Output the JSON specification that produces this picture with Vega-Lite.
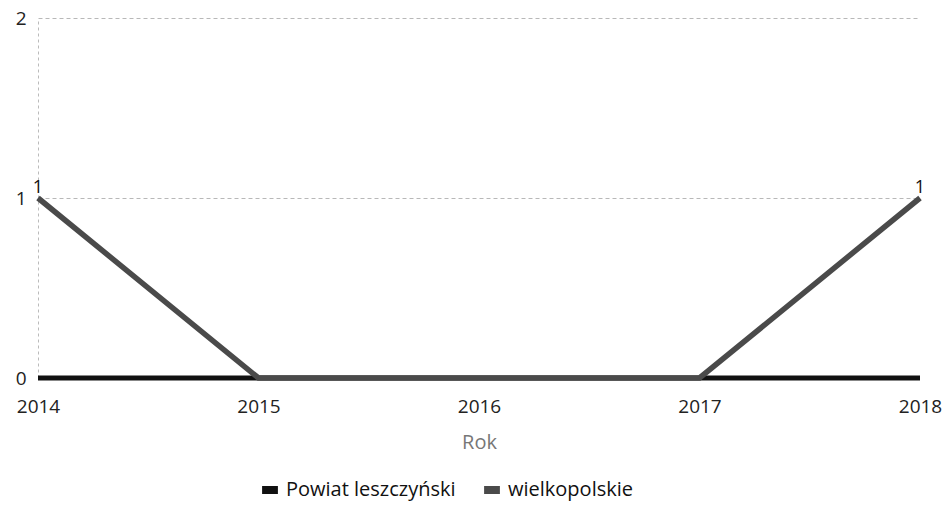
{
  "$schema": "https://vega.github.io/schema/vega-lite/v6.json",
  "autosize": {"type": "none"},
  "padding": {"left": 38, "top": 18, "right": 27, "bottom": 127},
  "width": 882,
  "height": 360,
  "background": "white",
  "config": {
    "font": "Open Sans",
    "view": {"stroke": null}
  },
  "data": {
    "values": [
      {"Rok": "2014", "seria": "Powiat leszczyński", "wartosc": 0},
      {"Rok": "2015", "seria": "Powiat leszczyński", "wartosc": 0},
      {"Rok": "2016", "seria": "Powiat leszczyński", "wartosc": 0},
      {"Rok": "2017", "seria": "Powiat leszczyński", "wartosc": 0},
      {"Rok": "2018", "seria": "Powiat leszczyński", "wartosc": 0},
      {"Rok": "2014", "seria": "wielkopolskie", "wartosc": 1},
      {"Rok": "2015", "seria": "wielkopolskie", "wartosc": 0},
      {"Rok": "2016", "seria": "wielkopolskie", "wartosc": 0},
      {"Rok": "2017", "seria": "wielkopolskie", "wartosc": 0},
      {"Rok": "2018", "seria": "wielkopolskie", "wartosc": 1}
    ]
  },
  "encoding": {
    "x": {
      "field": "Rok",
      "type": "ordinal",
      "scale": {"type": "point", "padding": 0},
      "axis": {
        "title": "Rok",
        "labelAngle": 0,
        "labelFontSize": 19,
        "labelColor": "#222",
        "labelPadding": 19,
        "ticks": false,
        "domain": false,
        "grid": false,
        "titleFontSize": 20,
        "titleFontWeight": "normal",
        "titleColor": "#777",
        "titlePadding": 16
      }
    },
    "y": {
      "field": "wartosc",
      "type": "quantitative",
      "scale": {"domain": [0, 2]},
      "axis": {
        "title": null,
        "values": [0, 1, 2],
        "format": ".0f",
        "grid": true,
        "labelFontSize": 19,
        "labelColor": "#222",
        "labelPadding": 12,
        "ticks": false,
        "domainColor": "#bbb",
        "domainDash": [3, 3],
        "gridColor": "#b8b8b8",
        "gridDash": [4, 3],
        "gridWidth": 1
      }
    },
    "color": {
      "field": "seria",
      "type": "nominal",
      "scale": {"domain": ["Powiat leszczyński", "wielkopolskie"], "range": ["#111111", "#4a4a4a"]},
      "legend": {
        "title": null,
        "orient": "none",
        "legendX": 220,
        "legendY": 460,
        "direction": "horizontal",
        "labelFontSize": 20,
        "labelLimit": 400,
        "labelColor": "#111",
        "symbolType": "stroke",
        "symbolSize": 250,
        "symbolStrokeWidth": 8,
        "columnPadding": 12
      }
    }
  },
  "layer": [
    {
      "transform": [{"filter": "datum.seria == 'Powiat leszczyński'"}],
      "mark": {"type": "line", "strokeWidth": 5, "strokeCap": "butt"}
    },
    {
      "transform": [{"filter": "datum.seria == 'wielkopolskie'"}],
      "mark": {"type": "line", "strokeWidth": 5.5, "strokeCap": "butt"}
    },
    {
      "transform": [{"filter": "datum.wartosc > 0"}],
      "mark": {"type": "text", "dy": -10, "fontSize": 18},
      "encoding": {
        "text": {"field": "wartosc", "type": "quantitative"},
        "color": {"value": "#111"}
      }
    }
  ]
}
